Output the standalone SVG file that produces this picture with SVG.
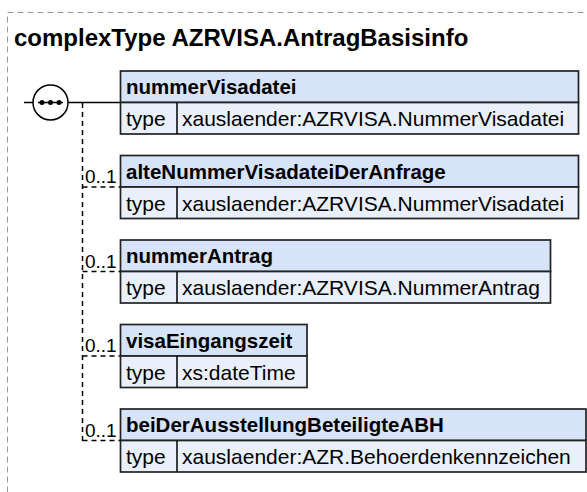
<svg xmlns="http://www.w3.org/2000/svg" width="587" height="492" viewBox="0 0 587 492">
<style>
.bg{fill:#ffffff}
.frame{fill:none;stroke:#999999;stroke-width:1;stroke-dasharray:6,4}
.title{font-family:"Liberation Sans",Arial,sans-serif;font-weight:bold;font-size:24px;fill:#000}
.hd{fill:#d6e3f8;stroke:#222;stroke-width:1.7}
.row{fill:#eaf0fb;stroke:#222;stroke-width:1.7}
.hdt{font-family:"Liberation Sans",Arial,sans-serif;font-weight:bold;font-size:20.5px;fill:#000}
.rt{font-family:"Liberation Sans",Arial,sans-serif;font-size:21px;fill:#000}
.card{font-family:"Liberation Sans",Arial,sans-serif;font-size:19px;fill:#000}
.solid{fill:none;stroke:#000;stroke-width:1.5}
.dash{fill:none;stroke:#000;stroke-width:1.5;stroke-dasharray:5,4}
</style>
<rect class="bg" x="0" y="0" width="587" height="492"/>
<rect class="frame" x="7.5" y="12.5" width="600" height="500"/>
<text class="title" x="14" y="46">complexType AZRVISA.AntragBasisinfo</text>

<g id="connectors">
<line class="solid" x1="24" y1="102.5" x2="33" y2="102.5"/>
<line class="solid" x1="68" y1="102.5" x2="120" y2="102.5"/>
<line class="dash" x1="82.5" y1="103" x2="82.5" y2="441"/>
<line class="dash" x1="82.5" y1="187" x2="120" y2="187"/>
<line class="dash" x1="82.5" y1="271.5" x2="120" y2="271.5"/>
<line class="dash" x1="82.5" y1="356" x2="120" y2="356"/>
<line class="dash" x1="82.5" y1="440.5" x2="120" y2="440.5"/>
<text class="card" x="85" y="183">0..1</text>
<text class="card" x="85" y="267.5">0..1</text>
<text class="card" x="85" y="352">0..1</text>
<text class="card" x="85" y="436.5">0..1</text>
</g>

<g id="sequence">
<circle cx="50.5" cy="102.5" r="17.5" fill="#fff" stroke="#000" stroke-width="1.5"/>
<line x1="38" y1="102.5" x2="63" y2="102.5" stroke="#000" stroke-width="1.5"/>
<circle cx="42" cy="102.5" r="2.5" fill="#000"/>
<circle cx="50.5" cy="102.5" r="2.5" fill="#000"/>
<circle cx="59" cy="102.5" r="2.5" fill="#000"/>
</g>

<g id="nummerVisadatei">
<rect class="hd" x="120.5" y="71" width="458" height="31.5"/>
<rect class="row" x="120.5" y="102.5" width="458" height="31.5"/>
<line class="solid" x1="177" y1="102.5" x2="177" y2="134"/>
<text class="hdt" x="126" y="94">nummerVisadatei</text>
<text class="rt" x="126" y="126">type</text>
<text class="rt" x="182" y="126">xauslaender:AZRVISA.NummerVisadatei</text>
</g>

<g id="alteNummerVisadateiDerAnfrage">
<rect class="hd" x="120.5" y="155.5" width="458" height="31.5"/>
<rect class="row" x="120.5" y="187" width="458" height="31.5"/>
<line class="solid" x1="177" y1="187" x2="177" y2="218.5"/>
<text class="hdt" x="126" y="178.5">alteNummerVisadateiDerAnfrage</text>
<text class="rt" x="126" y="210.5">type</text>
<text class="rt" x="182" y="210.5">xauslaender:AZRVISA.NummerVisadatei</text>
</g>

<g id="nummerAntrag">
<rect class="hd" x="120.5" y="240" width="430" height="31.5"/>
<rect class="row" x="120.5" y="271.5" width="430" height="31.5"/>
<line class="solid" x1="177" y1="271.5" x2="177" y2="303"/>
<text class="hdt" x="126" y="263">nummerAntrag</text>
<text class="rt" x="126" y="295">type</text>
<text class="rt" x="182" y="295">xauslaender:AZRVISA.NummerAntrag</text>
</g>

<g id="visaEingangszeit">
<rect class="hd" x="120.5" y="324.5" width="186.5" height="31.5"/>
<rect class="row" x="120.5" y="356" width="186.5" height="31.5"/>
<line class="solid" x1="177" y1="356" x2="177" y2="387.5"/>
<text class="hdt" x="126" y="347.5">visaEingangszeit</text>
<text class="rt" x="126" y="379.5">type</text>
<text class="rt" x="182" y="379.5">xs:dateTime</text>
</g>

<g id="beiDerAusstellungBeteiligteABH">
<rect class="hd" x="120.5" y="409" width="465.5" height="31.5"/>
<rect class="row" x="120.5" y="440.5" width="465.5" height="31.5"/>
<line class="solid" x1="177" y1="440.5" x2="177" y2="472"/>
<text class="hdt" x="126" y="432">beiDerAusstellungBeteiligteABH</text>
<text class="rt" x="126" y="464">type</text>
<text class="rt" x="182" y="464">xauslaender:AZR.Behoerdenkennzeichen</text>
</g>
</svg>
